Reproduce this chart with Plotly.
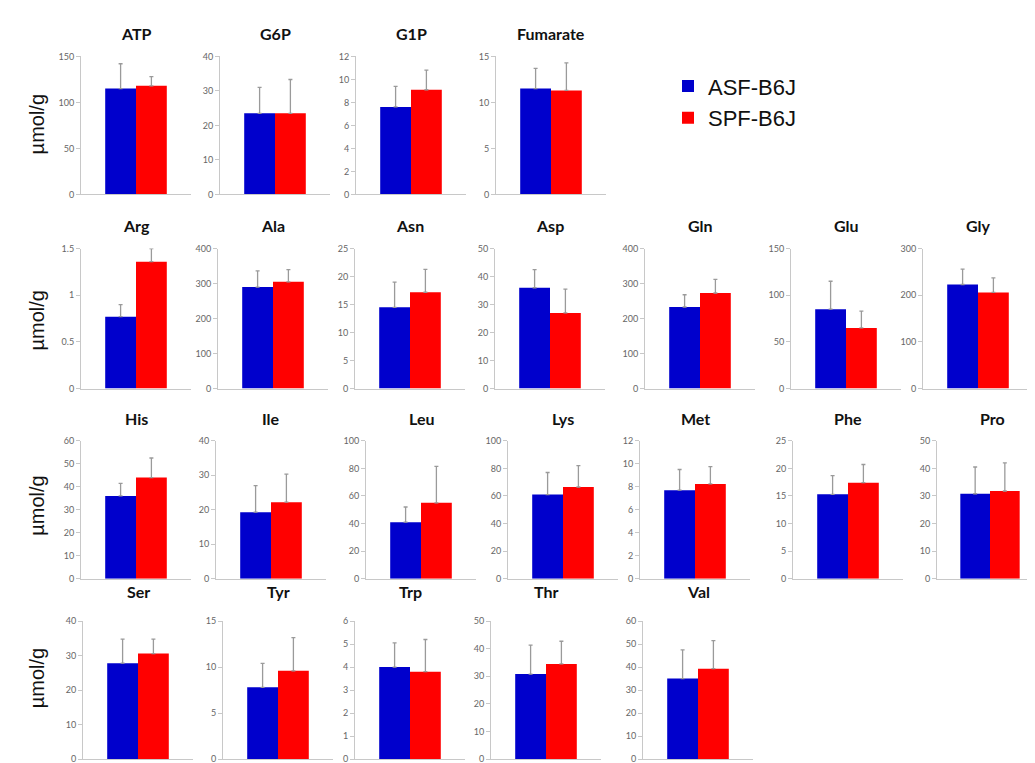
import plotly.graph_objects as go

# ---- data ----
metabolites = ["ATP", "G6P", "G1P", "Fumarate",
               "Arg", "Ala", "Asn", "Asp", "Gln", "Glu", "Gly",
               "His", "Ile", "Leu", "Lys", "Met", "Phe", "Pro",
               "Ser", "Tyr", "Trp", "Thr", "Val"]
asf_mean = [115, 23.5, 7.6, 11.5,
            0.77, 290, 14.5, 36, 233, 85, 223,
            36, 19.3, 41, 61, 7.7, 15.3, 30.8,
            27.8, 7.8, 4.0, 30.8, 35]
asf_sd = [27, 7.5, 1.8, 2.2,
          0.13, 46, 4.5, 6.5, 35, 30, 33,
          5.5, 7.7, 11, 16, 1.8, 3.4, 9.7,
          7, 2.6, 1.05, 10.5, 12.5]
spf_mean = [118, 23.5, 9.1, 11.3,
            1.36, 305, 17.2, 27, 273, 65, 206,
            44, 22.2, 55, 66.5, 8.25, 17.4, 31.8,
            30.6, 9.6, 3.8, 34.5, 39.3]
spf_sd = [10, 9.8, 1.7, 3.0,
          0.14, 35, 4.1, 8.5, 39, 18, 31,
          8.5, 8.1, 26.5, 15.5, 1.5, 3.3, 10.2,
          4.2, 3.6, 1.4, 8.2, 12.2]
y_max = [150, 40, 12, 15,
         1.5, 400, 25, 50, 400, 150, 300,
         60, 40, 100, 100, 12, 25, 50,
         40, 15, 6, 50, 60]
y_step = [50, 10, 2, 5,
          0.5, 100, 5, 10, 100, 50, 100,
          10, 10, 20, 20, 2, 5, 10,
          10, 5, 1, 10, 10]
group_names = ["ASF-B6J", "SPF-B6J"]
y_unit = "µmol/g"

# ---- layout geometry (pixels) ----
W, H = 1035, 763
row_lefts = [[73, 212, 348, 488],
             [73, 210, 347, 487, 637, 783, 915],
             [73, 208, 358, 500, 632, 785, 929],
             [75, 215, 347, 483, 635]]
row_top = [43, 238, 433, 616]
row_bot = [183, 380, 573, 756]
row_title_y = [20, 215, 410, 586]
unit_y = [112, 311, 499, 674]
panel_w = 110

fig = go.Figure()
colors = ["#0000CC", "#FF0000"]
annotations = []
k = 0
for r, lefts in enumerate(row_lefts):
    for left in lefts:
        i = k + 1
        xa = "x" if i == 1 else f"x{i}"
        ya = "y" if i == 1 else f"y{i}"
        means = [asf_mean[k], spf_mean[k]]
        sds = [asf_sd[k], spf_sd[k]]
        for g in range(2):
            fig.add_trace(go.Bar(
                x=[metabolites[k]], y=[means[g]], name=group_names[g],
                marker=dict(color=colors[g], line=dict(width=0)),
                error_y=dict(type="data", symmetric=False, array=[sds[g]], arrayminus=[0],
                             color="#9a9a9a", thickness=1.3, width=2),
                xaxis=xa, yaxis=ya, showlegend=(k == 0), legendgroup=group_names[g],
                offsetgroup=str(g),
            ))
        right = min(left + panel_w, W)
        x0 = left / W
        x1 = right / W
        y0 = 1 - row_bot[r] / H
        y1 = 1 - row_top[r] / H
        xkey = "xaxis" if i == 1 else f"xaxis{i}"
        ykey = "yaxis" if i == 1 else f"yaxis{i}"
        fig.layout[xkey] = dict(domain=[x0, x1], anchor=ya, showticklabels=False,
                                showline=True, linecolor="#c8c8c8", linewidth=1,
                                ticks="", showgrid=False, zeroline=False, fixedrange=True)
        fig.layout[ykey] = dict(domain=[y0, y1], anchor=xa, range=[0, y_max[k]],
                                dtick=y_step[k], tick0=0, showline=True, linecolor="#c8c8c8",
                                linewidth=1, ticks="outside", ticklen=4, tickcolor="#c8c8c8",
                                tickfont=dict(family="Lato, Arial", size=9, color="#666666"),
                                showgrid=False, zeroline=False, fixedrange=True)
        annotations.append(dict(text=f"<b>{metabolites[k]}</b>", x=(left + panel_w / 2) / W,
                                y=1 - row_title_y[r] / H, xref="paper", yref="paper",
                                showarrow=False, font=dict(family="Lato, Arial", size=16, color="#111111"),
                                xanchor="center", yanchor="middle"))
        k += 1
    annotations.append(dict(text=y_unit, x=29 / W, y=1 - unit_y[r] / H,
                            xref="paper", yref="paper", showarrow=False, textangle=-90,
                            font=dict(family="Liberation Sans, Arial", size=20, color="#111111"),
                            xanchor="center", yanchor="middle"))

fig.update_layout(
    width=W, height=H, margin=dict(l=0, r=0, t=0, b=0),
    paper_bgcolor="white", plot_bgcolor="white",
    barmode="group", bargap=0.44, bargroupgap=0,
    annotations=annotations,
    legend=dict(x=660 / W, y=1 - 52 / H, xanchor="left", yanchor="top",
                font=dict(family="Liberation Sans, Arial", size=22, color="#111111"),
                itemsizing="constant", tracegroupgap=0, bgcolor="rgba(0,0,0,0)"),
)

fig.write_html("out.html")
